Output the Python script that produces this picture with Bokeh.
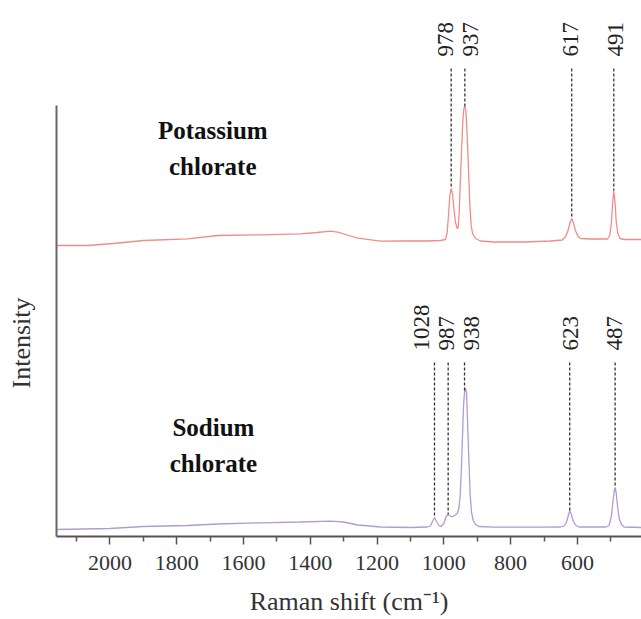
import math
from bokeh.plotting import figure
from bokeh.models import Range1d, FixedTicker, Title
from bokeh.embed import file_html
from bokeh.resources import INLINE
from bokeh.core.properties import value

# ---------------- data ----------------
# Potassium chlorate spectrum (offset upward), arbitrary intensity units
k_wn = [2160, 2067, 1990, 1899, 1767, 1677, 1549, 1429, 1380, 1339, 1318, 1290, 1258, 1189,
        1120, 1050, 1010, 995, 990, 986, 982, 978, 974, 970, 965, 960, 957, 954, 951, 947,
        943, 940, 937, 934, 930, 926, 922, 918, 914, 905, 890, 850, 760, 680, 645, 635,
        628, 622, 617, 612, 606, 598, 590, 560, 510, 503, 498, 495, 491, 487, 484, 479,
        472, 460, 408]
k_int = [291, 291, 293, 296, 297.7, 301, 301.7, 302.7, 304, 305.3, 304.3, 301.5, 298.3, 295.3,
         295.5, 295.5, 296, 297, 304, 321, 341, 348, 343, 328, 314, 308, 309, 324, 351, 386,
         416, 428, 430, 426, 401, 366, 331, 311, 303, 298, 295.5, 294.5, 294.5, 295.5, 296.5, 300,
         306, 314, 318, 314, 306, 300, 298, 297.5, 297.5, 301, 314, 331, 346, 333, 316, 303,
         298, 297, 297]

# Sodium chlorate spectrum
na_wn = [2160, 2000, 1900, 1767, 1677, 1549, 1429, 1339, 1300, 1258, 1189, 1100, 1050, 1040,
         1034, 1028, 1022, 1015, 1008, 1000, 993, 987, 981, 975, 968, 960, 955, 951, 947,
         944, 941, 938, 935, 932, 929, 925, 921, 917, 912, 905, 895, 850, 700, 650, 640,
         633, 628, 623, 618, 612, 604, 595, 540, 515, 505, 498, 493, 489, 487, 484, 480,
         475, 468, 460, 408]
na_int = [7, 8, 10, 11, 12.5, 13.7, 14.5, 15.3, 14.5, 11.5, 9.5, 9, 9.5, 10.5,
          15, 19, 15, 11, 10, 13, 20, 22, 20.5, 19.5, 21, 23, 28, 41, 71,
          101, 131, 144, 148, 144, 116, 76, 41, 24, 16, 12, 10, 9.3, 9.3, 9.5, 10.5,
          14, 20, 26, 22, 15, 11, 9.5, 9.5, 9.5, 11, 21, 36, 47, 49, 44, 31,
          18, 12, 9.5, 9]

# Peak markers
k_peaks = [978, 937, 617, 491]
k_peak_labels = ["978", "937", "617", "491"]
k_peak_int = [348, 430, 318, 346]
k_label_x = [994, 920, 620, 487]

na_peaks = [1028, 987, 938, 623, 487]
na_peak_labels = ["1028", "987", "938", "623", "487"]
na_peak_int = [19, 22, 146, 26, 49]
na_label_x = [1066, 992, 917, 620, 488]

names = ["Potassium\nchlorate", "Sodium\nchlorate"]
name_x = [1692, 1690]
name_y = [388, 91]

major_ticks = [2000, 1800, 1600, 1400, 1200, 1000, 800, 600]
minor_ticks = [2100, 1900, 1700, 1500, 1300, 1100, 900, 700, 500]

# ---------------- figure ----------------
FONT = "Liberation Serif"
p = figure(width=641, height=619, output_backend="svg", toolbar_location=None,
           x_range=Range1d(2160, 408), y_range=Range1d(0, 536),
           min_border_left=56, min_border_right=0, min_border_top=0, min_border_bottom=83)
p.grid.visible = False
p.outline_line_color = None
p.background_fill_color = "white"
p.border_fill_color = "white"

# x axis
xa = p.xaxis[0]
xa.ticker = FixedTicker(ticks=major_ticks, minor_ticks=minor_ticks)
xa.major_tick_out = 8
xa.major_tick_in = 0
xa.minor_tick_out = 5
xa.minor_tick_in = 0
xa.axis_line_width = 2
xa.axis_line_color = "#555555"
xa.major_tick_line_color = "#555555"
xa.major_tick_line_width = 1.5
xa.minor_tick_line_color = "#555555"
xa.minor_tick_line_width = 1.5
xa.major_label_text_font = FONT
xa.major_label_text_font_size = "22px"
xa.major_label_text_color = "#333333"
xa.major_label_standoff = 11
xa.axis_label = "Raman shift (cm\u207b\u00b9)"
xa.axis_label_text_font = FONT
xa.axis_label_text_font_size = "26px"
xa.axis_label_text_font_style = "normal"
xa.axis_label_text_color = "#333333"
xa.axis_label_standoff = 14

# y axis: only a line (blank label just reserves a little room)
ya = p.yaxis[0]
ya.ticker = FixedTicker(ticks=[])
ya.bounds = (0, 431)
ya.axis_line_width = 2
ya.axis_line_color = "#666666"
ya.major_tick_line_color = None
ya.minor_tick_line_color = None
ya.major_tick_out = 0
ya.major_label_standoff = 0
ya.axis_label = " "
ya.axis_label_standoff = 0
ya.axis_label_text_font_size = "10px"

# y axis title as a side title
p.add_layout(Title(text="Intensity", align="left", offset=148, vertical_align="middle",
                   standoff=11, text_font=FONT, text_font_size="26px",
                   text_font_style="normal", text_color="#333333"), "left")

# spectra
p.line(k_wn, k_int, line_color="#f08c8c", line_width=1.3)
p.line(na_wn, na_int, line_color="#b49bcc", line_width=1.3)

# dashed peak markers
p.segment(x0=k_peaks, y0=[468] * len(k_peaks), x1=k_peaks, y1=k_peak_int,
          line_color="#333333", line_width=1.3, line_dash="3 2")
p.segment(x0=na_peaks, y0=[174] * len(na_peaks), x1=na_peaks, y1=na_peak_int,
          line_color="#333333", line_width=1.3, line_dash="3 2")

# peak labels
p.text(x=k_label_x, y=[480] * len(k_label_x), text=k_peak_labels, angle=math.pi / 2,
       text_align="left", text_baseline="middle", text_font=value(FONT),
       text_font_size="23px", text_color="#222222")
p.text(x=na_label_x, y=[186] * len(na_label_x), text=na_peak_labels, angle=math.pi / 2,
       text_align="left", text_baseline="middle", text_font=value(FONT),
       text_font_size="23px", text_color="#222222")

# sample names
p.text(x=name_x, y=name_y, text=names, text_align="center", text_baseline="middle",
       text_font=value(FONT), text_font_style="bold", text_font_size="25px",
       text_line_height=1.3, text_color="#111111")

open("out.html", "w").write(file_html(p, INLINE))
